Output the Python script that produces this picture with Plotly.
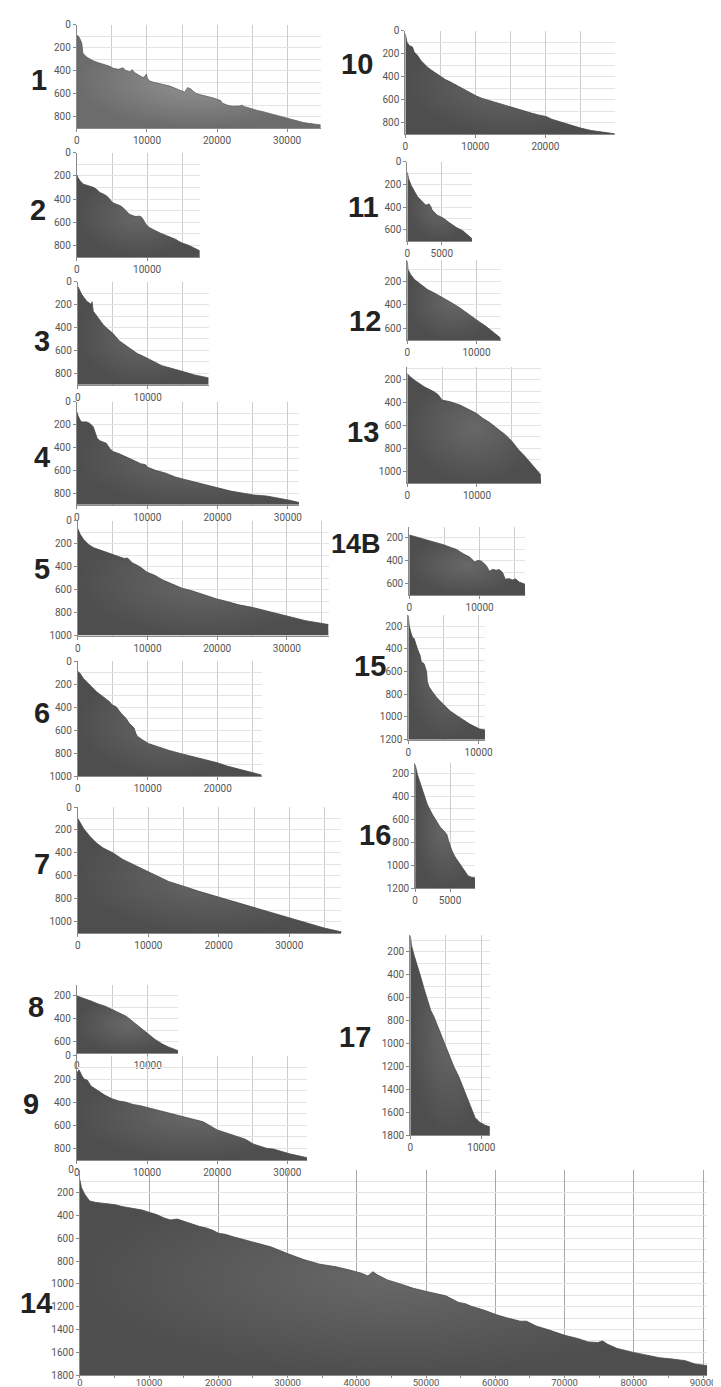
import plotly.graph_objects as go

# ---------------- data (depth profiles: x distance, y depth) ----------------
P1_X = [0, 240, 500, 700, 850, 1000, 1180, 1500, 1890, 2300, 2830, 3300, 3800, 4300, 4720, 5000, 5420, 5900, 6300, 6600,
        6900, 7200, 7550, 7800, 7920, 8200, 8700, 9100, 9430, 9700, 9900, 10100, 10380, 10900, 11300, 11790, 12300, 12800,
        13200, 13700, 14150, 14600, 15090, 15400, 15600, 15800, 16000, 16270, 16600, 16980, 17500, 18000, 18500, 18870,
        19300, 19800, 20280, 20500, 20750, 21200, 21700, 22300, 22900, 23300, 23580, 23800, 24060, 24600, 25240, 25800,
        26400, 27000, 27600, 28300, 28900, 29500, 30280, 30900, 31600, 32300, 33020, 33800, 34800]
P1_Y = [90, 100, 130, 160, 245, 262, 270, 285, 300, 312, 325, 335, 348, 355, 362, 375, 380, 388, 380, 375,
        395, 400, 410, 395, 392, 415, 435, 445, 460, 450, 430, 470, 490, 500, 505, 510, 522, 528,
        533, 545, 556, 570, 585, 588, 565, 548, 552, 560, 580, 597, 608, 615, 622, 625,
        635, 645, 654, 660, 683, 695, 706, 710, 712, 708, 700, 712, 716, 728, 740, 748,
        755, 765, 775, 787, 795, 805, 821, 835, 844, 852, 859, 865, 873]

P2_X = [0, 140, 467, 935, 1400, 1869, 2300, 2804, 3271, 3700, 4206, 4600, 5047, 5607, 6100, 6542, 7000, 7477, 8000,
        8411, 8800, 9112, 9346, 9813, 10280, 10700, 11215, 11900, 12617, 13300, 14019, 14500, 15047, 15888, 16400,
        16822, 17500]
P2_Y = [190, 214, 243, 272, 280, 286, 298, 315, 344, 355, 372, 395, 430, 445, 455, 473, 500, 531, 545,
        551, 548, 551, 568, 617, 646, 662, 675, 695, 712, 730, 747, 765, 782, 799, 815,
        828, 848]

P3_X = [0, 187, 561, 900, 1262, 1600, 1963, 2030, 2100, 2196, 2600, 2897, 3598, 4100, 4533, 4900, 5000, 5935, 6869,
        7804, 8500, 9206, 10607, 12009, 12700, 13411, 15047, 16682, 18084, 18700]
P3_Y = [42, 70, 113, 140, 171, 185, 200, 175, 230, 258, 290, 315, 373, 405, 430, 445, 451, 517, 560,
        603, 628, 647, 690, 733, 745, 756, 785, 814, 834, 840]

P4_X = [0, 140, 465, 698, 1395, 1860, 2326, 2558, 2884, 3256, 3721, 4186, 4651, 5116, 6047, 6977, 7907, 9070, 9767,
        10000, 11163, 12558, 13953, 15349, 17209, 18605, 20000, 21860, 23256, 25116, 26977, 28837, 30233, 31600]
P4_Y = [90, 119, 162, 177, 177, 191, 220, 263, 320, 341, 355, 364, 407, 436, 456, 479, 508, 542, 551,
        571, 600, 623, 657, 680, 709, 732, 752, 781, 795, 815, 824, 844, 861, 881]

P5_X = [0, 328, 797, 1500, 2203, 3141, 4079, 4923, 5954, 6657, 7126, 7829, 8400, 9001, 9939, 10500, 11111, 12049,
        13455, 14955, 16268, 17675, 19081, 19925, 21425, 23113, 24988, 26981, 28500, 30005, 32677, 35958]
P5_Y = [70, 119, 162, 206, 235, 255, 272, 293, 313, 330, 325, 368, 385, 406, 449, 462, 478, 513,
        551, 588, 609, 638, 667, 681, 704, 733, 754, 783, 805, 832, 870, 904]

P6_X = [0, 327, 794, 1729, 2664, 3598, 4533, 4907, 5467, 6168, 6869, 7336, 8037, 8271, 8505, 9206, 10140, 11542,
        12944, 14907, 16682, 18551, 19953, 21355, 23224, 25093, 26262]
P6_Y = [86, 106, 149, 207, 264, 307, 351, 379, 394, 451, 494, 537, 580, 624, 652, 681, 716, 744,
        773, 805, 833, 862, 882, 911, 940, 968, 988]

P7_X = [0, 791, 1721, 2651, 3581, 4977, 6372, 7767, 9953, 11488, 12884, 14977, 17070, 19953, 23116, 24977, 27767,
        30000, 32419, 34977, 37442]
P7_Y = [100, 186, 257, 314, 357, 400, 457, 500, 566, 614, 651, 691, 734, 786, 843, 880, 929,
        971, 1014, 1057, 1091]

P8_X = [0, 1000, 2000, 3000, 4000, 5000, 6000, 7000, 8000, 9000, 10000, 11000, 12000, 13000, 14300]
P8_Y = [200, 220, 245, 270, 290, 320, 350, 380, 430, 480, 530, 580, 620, 650, 680]

P9_X = [0, 300, 700, 1000, 1500, 2000, 3000, 4000, 5000, 6000, 7000, 8000, 9000, 10000, 11000, 12000, 14000,
        16000, 18000, 20000, 22000, 24000, 25200, 27100, 28000, 30300, 32800]
P9_Y = [150, 120, 170, 200, 210, 260, 300, 340, 370, 390, 400, 420, 430, 445, 460, 480, 510,
        540, 570, 640, 680, 720, 763, 800, 805, 846, 880]

P10_X = [0, 93, 234, 561, 1028, 1262, 1729, 2196, 2600, 3131, 3600, 4065, 4500, 5093, 5700, 6400, 7000, 7800, 8738,
         9400, 10140, 11000, 12009, 13411, 14200, 15140, 16100, 17150, 18000, 19020, 20093, 20888, 21800, 22757,
         23900, 25047, 26495, 27400, 28364, 29860]
P10_Y = [27, 60, 99, 128, 142, 185, 214, 257, 285, 315, 338, 358, 380, 402, 425, 445, 465, 494, 523,
         545, 569, 590, 609, 632, 650, 670, 688, 705, 718, 734, 748, 771, 788, 805,
         828, 849, 869, 880, 886, 898]

P11_X = [0, 187, 561, 1028, 1495, 2196, 2664, 2900, 3131, 3400, 3598, 4299, 5234, 6168, 7103, 8037, 8972, 9346]
P11_Y = [93, 151, 209, 267, 310, 354, 383, 380, 372, 395, 426, 470, 499, 542, 580, 609, 658, 678]

P12_X = [0, 94, 469, 1033, 1972, 2911, 3850, 5023, 6197, 7606, 8545, 9953, 11362, 12300, 13474]
P12_Y = [25, 96, 139, 182, 225, 268, 296, 334, 374, 425, 468, 525, 582, 625, 682]

P13_X = [0, 300, 1028, 2430, 3832, 4400, 5000, 6168, 7570, 8972, 9907, 10841, 11776, 13178, 14112, 15047, 15981,
         16916, 17850, 18551, 19159]
P13_Y = [147, 170, 205, 263, 306, 330, 379, 393, 422, 465, 494, 538, 572, 639, 682, 740, 812,
         870, 942, 986, 1029]

P14B_X = [0, 1121, 2523, 3925, 4953, 5794, 6729, 7664, 8598, 9299, 9766, 10234, 10935, 11402, 11869, 12336, 12804,
          13271, 13645, 14206, 14673, 15140, 15607, 16075, 16449]
P14B_Y = [174, 194, 214, 243, 261, 281, 301, 339, 368, 412, 397, 403, 441, 493, 475, 484, 478,
          504, 562, 557, 568, 560, 586, 597, 606]

P15_X = [0, 140, 372, 605, 837, 977, 1302, 1674, 1860, 2233, 2372, 2605, 2698, 2930, 3395, 4093, 5023, 5953, 7349,
         8744, 10140, 10605, 10930]
P15_Y = [106, 200, 256, 300, 310, 343, 400, 458, 516, 530, 558, 602, 688, 732, 775, 833, 890, 948, 1006,
         1063, 1107, 1115, 1115]

P16_X = [0, 327, 794, 1262, 1729, 2430, 3131, 3598, 4065, 4533, 4766, 5234, 5701, 6168, 6636, 7103, 7570, 8037, 8598]
P16_Y = [120, 209, 294, 380, 466, 551, 623, 666, 694, 729, 780, 866, 923, 966, 1009, 1051, 1089, 1103, 1109]

P17_X = [0, 185, 556, 1019, 1481, 1944, 2407, 2870, 3333, 3796, 4259, 4722, 5185, 5648, 6111, 6806, 7269, 7731,
         8194, 8657, 9120, 9815, 10509, 11204]
P17_Y = [62, 148, 235, 321, 422, 523, 624, 710, 768, 840, 898, 984, 1056, 1128, 1200, 1287, 1359, 1445,
         1517, 1589, 1647, 1690, 1713, 1727]

P14_X = [0, 234, 703, 1405, 2300, 3200, 4215, 5100, 6089, 7000, 7963, 9000, 10070, 11100, 12178, 13115, 14052,
         15457, 16400, 17330, 18267, 19200, 20000, 21000, 22014, 23888, 25761, 27635, 29977, 32319, 34660, 37002,
         39344, 40673, 41608, 42309, 43011, 44413, 46283, 48153, 50023, 51893, 52828, 53763, 54698, 55633, 56568,
         58438, 60075, 61711, 63581, 64516, 65919, 67789, 70033, 71996, 73399, 74801, 75502, 76204, 77606, 79944,
         81814, 83684, 85554, 87424, 88826, 90600]
P14_Y = [84, 156, 214, 272, 285, 292, 295, 305, 321, 330, 344, 352, 373, 392, 422, 439, 431,
         460, 478, 497, 509, 530, 555, 565, 584, 613, 647, 676, 734, 786, 827, 850,
         884, 907, 931, 893, 922, 965, 1000, 1038, 1066, 1090, 1104, 1133, 1162, 1173, 1197,
         1231, 1269, 1298, 1327, 1327, 1370, 1405, 1451, 1480, 1509, 1514, 1500, 1529, 1566, 1601,
         1624, 1647, 1659, 1673, 1702, 1717]

# ---------------- layout of the panels (pixel boxes) ----------------
W, H = 721, 1387
# name, x, y, plot box (left, right, top, bottom), x max, y range (top, bottom), x label step, label position
PANELS = [
    ("1",   P1_X,   P1_Y,   (67, 315, 11, 115),      34800, (0, 900),   10000, (28, 67)),
    ("2",   P2_X,   P2_Y,   (67, 192, 140, 245),     17500, (0, 900),   10000, (27, 198)),
    ("3",   P3_X,   P3_Y,   (68, 201, 270, 374),     18700, (0, 900),   10000, (32, 330)),
    ("4",   P4_X,   P4_Y,   (67, 293, 391, 495),     31600, (0, 900),   10000, (32, 447)),
    ("5",   P5_X,   P5_Y,   (68, 323, 511, 627),     36000, (0, 1000),  10000, (32, 560)),
    ("6",   P6_X,   P6_Y,   (68, 255, 653, 769),     26300, (0, 1000),  10000, (32, 705)),
    ("7",   P7_X,   P7_Y,   (68, 336, 800, 927),     37400, (0, 1100),  10000, (32, 857)),
    ("8",   P8_X,   P8_Y,   (67, 170, 979, 1048),    14300, (100, 700), 10000, (25, 1002)),
    ("9",   P9_X,   P9_Y,   (67, 301, 1051, 1156),   32800, (0, 900),   10000, (20, 1100)),
    ("14",  P14_X,  P14_Y,  (70, 708, 1166, 1373),   90600, (0, 1800),  10000, (25, 1300)),
    ("10",  P10_X,  P10_Y,  (401, 614, 17, 121),     29900, (0, 900),   10000, (352, 50)),
    ("11",  P11_X,  P11_Y,  (403, 469, 149, 229),    9400,  (0, 700),   5000,  (358, 195)),
    ("12",  P12_X,  P12_Y,  (403, 498, 248, 329),    13500, (15, 700),  10000, (360, 310)),
    ("13",  P13_X,  P13_Y,  (403, 539, 356, 473),    19200, (90, 1100), 10000, (358, 422)),
    ("14B", P14B_X, P14B_Y, (405, 523, 517, 586),    16500, (100, 700), 10000, (351, 535)),
    ("15",  P15_X,  P15_Y,  (404, 482, 606, 732),    10900, (100, 1200), 10000, (365, 658)),
    ("16",  P16_X,  P16_Y,  (411, 472, 756, 882),    8600,  (110, 1200), 5000, (370, 828)),
    ("17",  P17_X,  P17_Y,  (406, 487, 929, 1131),   11200, (55, 1800), 10000, (350, 1032)),
]

TICK_FONT = dict(family="Liberation Sans Narrow, Roboto, sans-serif", size=10, color="#555555")

fig = go.Figure()
layout = dict(width=W, height=H, margin=dict(l=0, r=0, t=0, b=0),
              paper_bgcolor="white", plot_bgcolor="white", showlegend=False, annotations=[])

for i, (name, xs, ys, box, xmax, yr, xstep, lab) in enumerate(PANELS, start=1):
    left, right, top, bottom = box
    sfx = "" if i == 1 else str(i)
    xa, ya = "x" + sfx, "y" + sfx
    big = name == "14"
    base_y = yr[1]
    # baseline at the bottom of the axis, then the profile filled down to it
    fig.add_trace(go.Scatter(x=[0, xmax], y=[base_y, base_y], mode="lines", line=dict(width=0),
                             hoverinfo="skip", xaxis=xa, yaxis=ya))
    if name == "1":
        grad = [[0, "#939393"], [1, "#6c6c6c"]]
        lc = "#5e5e5e"
    else:
        grad = [[0, "#686868"], [1, "#4e4e4e"]]
        lc = "#474747"
    fig.add_trace(go.Scatter(x=xs, y=ys, mode="lines", fill="tonexty",
                             line=dict(color=lc, width=0.8),
                             fillcolor="#5a5a5a",
                             fillgradient=dict(type="radial", colorscale=grad),
                             hoverinfo="skip", xaxis=xa, yaxis=ya))

    xaxis = dict(domain=[left / W, right / W], anchor=ya, range=[0, xmax],
                 tick0=0, dtick=xstep, tickformat="d", tickfont=TICK_FONT,
                 showline=True, linecolor="#8a8a8a", linewidth=1,
                 ticks="outside", ticklen=3, tickcolor="#8a8a8a",
                 showgrid=True, zeroline=False)
    if big:
        xaxis.update(gridcolor="#a8a8a8", gridwidth=1.2, ticklen=2, ticklabelstandoff=-4,
                     tickfont=dict(TICK_FONT, size=9.5),
                     minor=dict(dtick=5000, tick0=0, ticks="outside", ticklen=2,
                                tickcolor="#8a8a8a", showgrid=False))
    elif xstep == 5000:
        xaxis.update(gridcolor="#cdcdcd")
    else:
        xaxis.update(gridcolor="#cdcdcd",
                     minor=dict(dtick=5000, tick0=0, showgrid=True, gridcolor="#cdcdcd"))
    yaxis = dict(domain=[1 - bottom / H, 1 - top / H], anchor=xa, range=[yr[1], yr[0]],
                 tick0=0, dtick=200, tickformat="d", tickfont=TICK_FONT,
                 showline=True, linecolor="#8a8a8a", linewidth=1,
                 ticks="outside", ticklen=3, tickcolor="#8a8a8a",
                 showgrid=True, gridcolor="#e4e4e4", zeroline=False,
                 minor=dict(dtick=100, tick0=0, showgrid=True, gridcolor="#e4e4e4"))
    layout["xaxis" + sfx] = xaxis
    layout["yaxis" + sfx] = yaxis
    layout["annotations"].append(dict(
        text=name, xref="paper", yref="paper", x=lab[0] / W, y=1 - lab[1] / H,
        xanchor="center", yanchor="middle", showarrow=False,
        font=dict(family="Liberation Sans, Arial, sans-serif", size=(27 if name == "14B" else 29),
                  color="#222222", weight="bold")))

fig.update_layout(**layout)
fig.write_html("out.html")
